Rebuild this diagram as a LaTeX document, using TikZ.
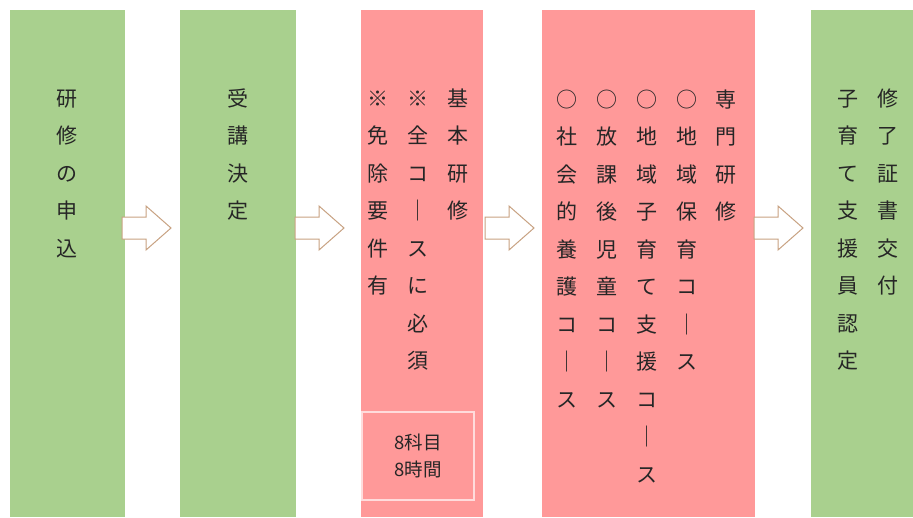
\documentclass[tikz,border=0pt]{standalone}
\usepackage{fontspec}
\newfontfamily\jpfont{Noto Sans CJK JP}
\definecolor{boxgreen}{HTML}{A9D08E}
\definecolor{boxpink}{HTML}{FF9999}
\definecolor{arrowline}{HTML}{C8A282}
\definecolor{txtcol}{HTML}{262626}
\definecolor{framecol}{HTML}{FFDCDC}
\tikzset{
  gbox/.style={fill=boxgreen, draw=none, inner sep=0pt, anchor=north west},
  pbox/.style={fill=boxpink, draw=none, inner sep=0pt, anchor=north west},
  ch/.style={font=\jpfont\fontsize{21}{21}\selectfont, text=txtcol, inner sep=0pt, anchor=base},
  blockarrow/.style={draw=arrowline, fill=white, line width=1pt, line join=miter},
  framebox/.style={draw=framecol, line width=1.5pt, minimum width=112pt, minimum height=88pt,
    inner sep=0pt, align=center, text=txtcol, font=\jpfont\fontsize{18.5}{27}\selectfont}
}
\newcommand\jpcol[4]{%
  \foreach \c [count=\i from 0] in {#4} {\node[ch] (#1\i) at (#2, {#3+37.5*\i+8}) {\c};}%
}
\newcommand\blockarr[1]{%
  \draw[blockarrow] (#1) ++(0,-11) -- ++(24,0) -- ++(0,-11) -- ++(25,22) -- ++(-25,22)
    -- ++(0,-11) -- ++(-24,0) -- cycle;%
}
\begin{document}
\begin{tikzpicture}[x=1pt, y=-1pt]
\useasboundingbox (0,0) rectangle (913,517);
\node[gbox, minimum width=115pt, minimum height=507pt] (b1) at (10,10) {};
\node[gbox, minimum width=116pt, minimum height=507pt] (b2) at (180,10) {};
\node[pbox, minimum width=122pt, minimum height=507pt] (b3) at (361,10) {};
\node[pbox, minimum width=213pt, minimum height=507pt] (b4) at (542,10) {};
\node[gbox, minimum width=102pt, minimum height=507pt] (b5) at (811,10) {};

\coordinate (a1) at (122,228);
\coordinate (a2) at (295,228);
\coordinate (a3) at (485,228);
\coordinate (a4) at (754,228);
\blockarr{a1}
\blockarr{a2}
\blockarr{a3}
\blockarr{a4}

\jpcol{t1-}{67}{98}{研,修,の,申,込}
\jpcol{t2-}{238}{98}{受,講,決,定}
\jpcol{t3a-}{458}{98}{基,本,研,修}
\jpcol{t3b-}{418}{98}{※,全,コ,｜,ス,に,必,須}
\jpcol{t3c-}{378}{98}{※,免,除,要,件,有}
\jpcol{t4a-}{726}{99}{専,門,研,修}
\jpcol{t4b-}{687}{99}{○,地,域,保,育,コ,｜,ス}
\jpcol{t4c-}{647}{99}{○,地,域,子,育,て,支,援,コ,｜,ス}
\jpcol{t4d-}{607}{99}{○,放,課,後,児,童,コ,｜,ス}
\jpcol{t4e-}{567}{99}{○,社,会,的,養,護,コ,｜,ス}
\jpcol{t5a-}{888}{98}{修,了,証,書,交,付}
\jpcol{t5b-}{848}{98}{子,育,て,支,援,員,認,定}

\node[framebox] (k) at (418,456) {8科目\\8時間};
\end{tikzpicture}
\end{document}
